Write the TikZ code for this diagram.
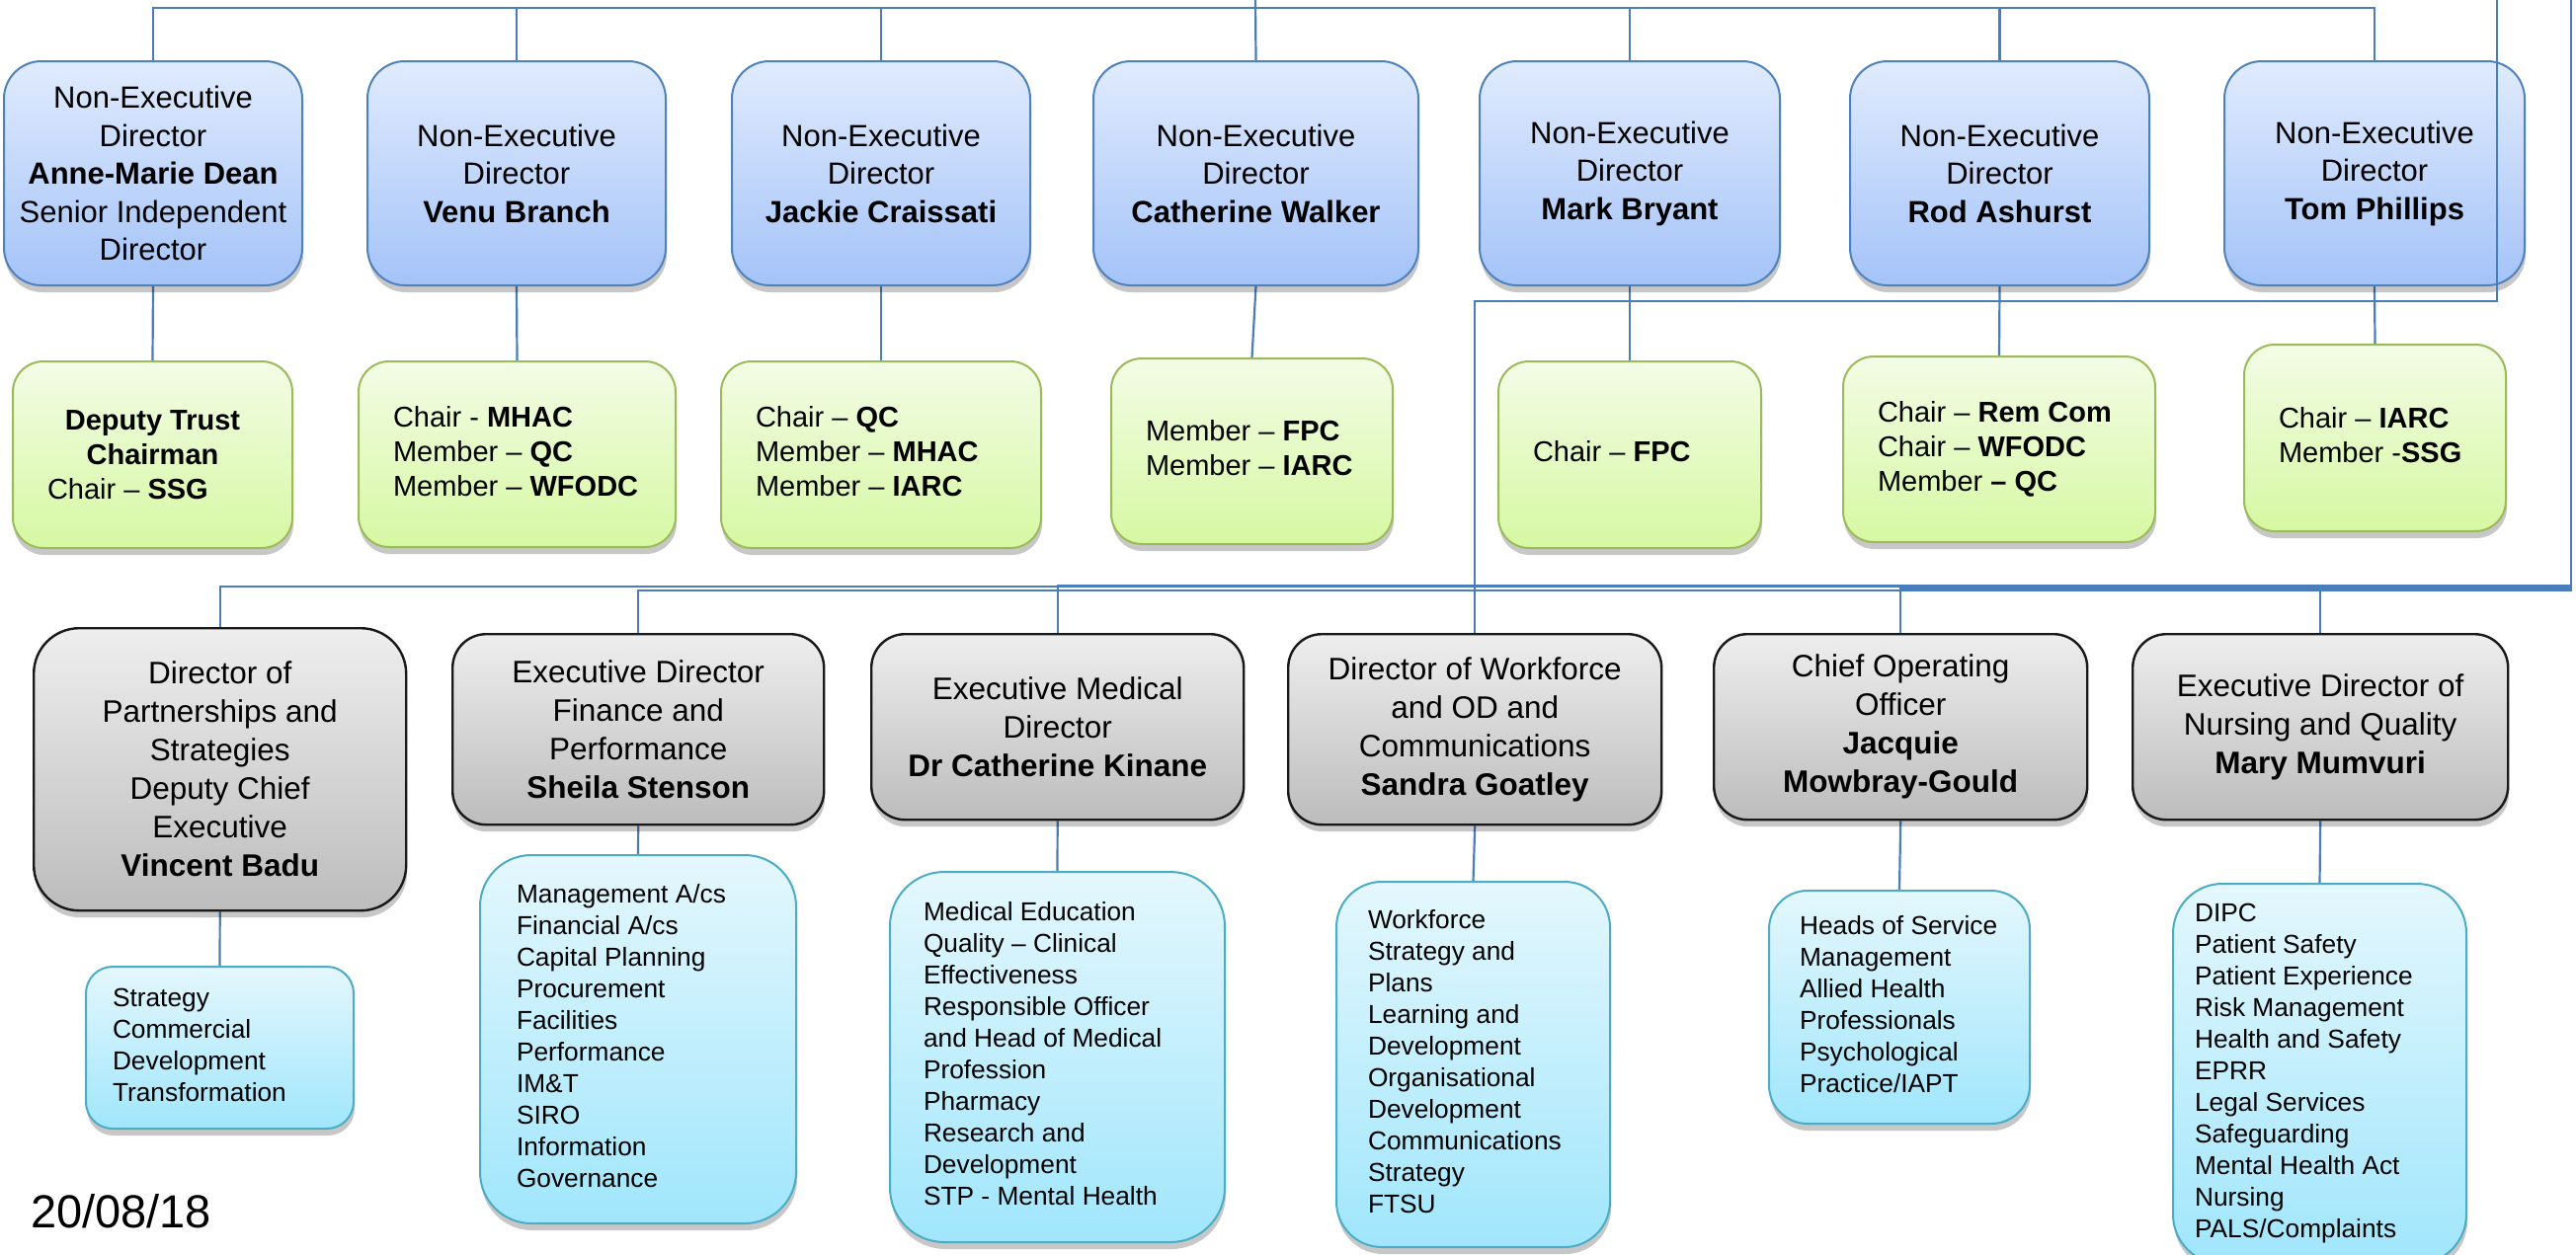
\documentclass[tikz,border=0pt]{standalone}
\usepackage{fontspec}
\setmainfont{Liberation Sans}
\usetikzlibrary{shadows}
\pgfdeclarelayer{bg}
\pgfsetlayers{bg,main}

\definecolor{connc}{RGB}{74,126,187}
\definecolor{nedline}{RGB}{79,129,189}
\definecolor{nedtop}{RGB}{224,235,253}
\definecolor{nedbot}{RGB}{164,195,248}
\definecolor{grnline}{RGB}{155,187,89}
\definecolor{grntop}{RGB}{243,252,230}
\definecolor{grnbot}{RGB}{214,248,162}
\definecolor{exeline}{RGB}{25,25,25}
\definecolor{exetop}{RGB}{238,238,238}
\definecolor{exebot}{RGB}{188,188,188}
\definecolor{cyline}{RGB}{75,172,198}
\definecolor{cytop}{RGB}{228,247,253}
\definecolor{cybot}{RGB}{160,230,252}

\newcommand\fned{\fontsize{31}{38.5}\selectfont}
\newcommand\fgrn{\fontsize{29}{35}\selectfont}
\newcommand\fexe{\fontsize{31.5}{39}\selectfont}
\newcommand\fcy{\fontsize{26.3}{32}\selectfont}
\newcommand\lblock[2]{\makebox[#1][l]{\begin{tabular}{@{}l@{}}#2\end{tabular}}}

\tikzset{
  orgbox/.style={anchor=north west, inner sep=0pt, line width=2pt,
    drop shadow={shadow xshift=1pt, shadow yshift=-7pt, opacity=0.22, fill=black}},
  ned/.style={orgbox, draw=nedline, top color=nedtop, bottom color=nedbot,
    font=\fned, align=center, rounded corners=38pt},
  grn/.style={orgbox, draw=grnline, top color=grntop, bottom color=grnbot,
    font=\fgrn, rounded corners=31pt},
  exe/.style={orgbox, draw=exeline, line width=2.4pt, top color=exetop, bottom color=exebot,
    font=\fexe, align=center},
  cy/.style={orgbox, draw=cyline, top color=cytop, bottom color=cybot, font=\fcy},
  conn/.style={draw=connc, line width=2.2pt},
}

\begin{document}
\begin{tikzpicture}[x=1pt, y=-1pt]
\useasboundingbox (0,0) rectangle (2608,1270);

% ---------- Non-executive directors ----------
\node[ned, minimum width=302pt, minimum height=227pt] (n1) at (3,61)
  {Non-Executive\\Director\\\textbf{Anne-Marie Dean}\\Senior Independent\\Director};
\node[ned, minimum width=302pt, minimum height=227pt] (n2) at (371,61)
  {Non-Executive\\Director\\\textbf{Venu Branch}};
\node[ned, minimum width=302pt, minimum height=227pt] (n3) at (740,61)
  {Non-Executive\\Director\\\textbf{Jackie Craissati}};
\node[ned, minimum width=329pt, minimum height=227pt] (n4) at (1106,61)
  {Non-Executive\\Director\\\textbf{Catherine Walker}};
\node[ned, minimum width=304pt, minimum height=227pt] (n5) at (1497,61)
  {Non-Executive\\Director\\\textbf{Mark Bryant}};
\node[ned, minimum width=303pt, minimum height=227pt] (n6) at (1872,61)
  {Non-Executive\\Director\\\textbf{Rod Ashurst}};
\node[ned, minimum width=304pt, minimum height=227pt] (n7) at (2251,61)
  {Non-Executive\\Director\\\textbf{Tom Phillips}};

% ---------- Committee roles ----------
\node[grn, minimum width=283pt, minimum height=189pt, align=center] (g1) at (12,365)
  {\textbf{Deputy Trust}\\\textbf{Chairman}\\\makebox[213pt][l]{Chair – \textbf{SSG}}};
\node[grn, minimum width=321pt, minimum height=188pt] (g2) at (362,365)
  {\lblock{251pt}{Chair - \textbf{MHAC}\\Member – \textbf{QC}\\Member – \textbf{WFODC}}};
\node[grn, minimum width=324pt, minimum height=189pt] (g3) at (729,365)
  {\lblock{254pt}{Chair – \textbf{QC}\\Member – \textbf{MHAC}\\Member – \textbf{IARC}}};
\node[grn, minimum width=285pt, minimum height=188pt] (g4) at (1124,362)
  {\lblock{215pt}{Member – \textbf{FPC}\\Member – \textbf{IARC}}};
\node[grn, minimum width=266pt, minimum height=189pt] (g5) at (1516,365)
  {\lblock{196pt}{Chair – \textbf{FPC}}};
\node[grn, minimum width=316pt, minimum height=188pt] (g6) at (1865,360)
  {\lblock{246pt}{Chair – \textbf{Rem Com}\\Chair – \textbf{WFODC}\\Member \textbf{– QC}}};
\node[grn, minimum width=265pt, minimum height=189pt] (g7) at (2271,348)
  {\lblock{195pt}{Chair – \textbf{IARC}\\Member -\textbf{SSG}}};

% ---------- Executive directors ----------
\node[exe, minimum width=377pt, minimum height=286pt, rounded corners=46pt] (e1) at (33,635)
  {Director of\\Partnerships and\\Strategies\\Deputy Chief\\Executive\\\textbf{Vincent Badu}};
\node[exe, minimum width=376pt, minimum height=193pt, rounded corners=34pt] (e2) at (457,641)
  {Executive Director\\Finance and\\Performance\\\textbf{Sheila Stenson}};
\node[exe, minimum width=377pt, minimum height=188pt, rounded corners=34pt] (e3) at (881,641)
  {Executive Medical\\Director\\\textbf{Dr Catherine Kinane}};
\node[exe, minimum width=378pt, minimum height=193pt, rounded corners=34pt] (e4) at (1303,641)
  {Director of Workforce\\and OD and\\Communications\\\textbf{Sandra Goatley}};
\node[exe, minimum width=378pt, minimum height=188pt, rounded corners=34pt] (e5) at (1734,641)
  {Chief Operating\\Officer\\\textbf{Jacquie}\\\textbf{Mowbray-Gould}};
\node[exe, minimum width=380pt, minimum height=188pt, rounded corners=34pt] (e6) at (2158,641)
  {Executive Director of\\Nursing and Quality\\\textbf{Mary Mumvuri}};

% ---------- Portfolios ----------
\node[cy, minimum width=271pt, minimum height=164pt, rounded corners=27pt] (c1) at (86,978)
  {\lblock{217pt}{Strategy\\Commercial\\Development\\Transformation}};
\node[cy, minimum width=320pt, minimum height=373pt, rounded corners=52pt] (c2) at (485,865)
  {\lblock{246pt}{Management A/cs\\Financial A/cs\\Capital Planning\\Procurement\\Facilities\\Performance\\IM\&T\\SIRO\\Information\\Governance}};
\node[cy, minimum width=339pt, minimum height=375pt, rounded corners=55pt] (c3) at (900,882)
  {\lblock{271pt}{Medical Education\\Quality – Clinical\\Effectiveness\\Responsible Officer\\and Head of Medical\\Profession\\Pharmacy\\Research and\\Development\\STP - Mental Health}};
\node[cy, minimum width=277pt, minimum height=370pt, rounded corners=46pt] (c4) at (1352,892)
  {\lblock{213pt}{Workforce\\Strategy and\\Plans\\Learning and\\Development\\Organisational\\Development\\Communications\\Strategy\\FTSU}};
\node[cy, minimum width=264pt, minimum height=236pt, rounded corners=39pt] (c5) at (1790,901)
  {\lblock{202pt}{Heads of Service\\Management\\Allied Health\\Professionals\\Psychological\\Practice/IAPT}};
\node[cy, minimum width=297pt, minimum height=385pt, rounded corners=50pt] (c6) at (2199,894)
  {\lblock{253pt}{DIPC\\Patient Safety\\Patient Experience\\Risk Management\\Health and Safety\\EPRR\\Legal Services\\Safeguarding\\Mental Health Act\\Nursing\\PALS/Complaints}};

% ---------- Date ----------
\node[anchor=base west, inner sep=0pt, font=\fontsize{47}{56}\selectfont] (date) at (31,1243) {20/08/18};

% ---------- Connectors ----------
\coordinate (topin) at (1271,0);
\coordinate (rightin) at (2603,0);
\coordinate (wfin) at (2528,0);

\begin{pgfonlayer}{bg}
  \fill[white] (0,0) rectangle (2608,1270);
  \foreach \n in {n1,n2,n3,n5,n6,n7}
    \draw[conn] (topin) -- ++(0,8) -| (\n.north);
  \draw[conn] (topin) -- (n4.north);
  \foreach \i in {1,...,7}
    \draw[conn] (n\i.south) -- (g\i.north);
  \foreach \e/\yy in {e1/594,e2/598,e3/593,e5/596,e6/598}
    \draw[conn] (rightin) -- ++(0,\yy) -| (\e.north);
  \foreach \i in {1,...,6}
    \draw[conn] (e\i.south) -- (c\i.north);
\end{pgfonlayer}
\draw[conn] (wfin) -- ++(0,305) -| (e4.north);
\end{tikzpicture}
\end{document}
